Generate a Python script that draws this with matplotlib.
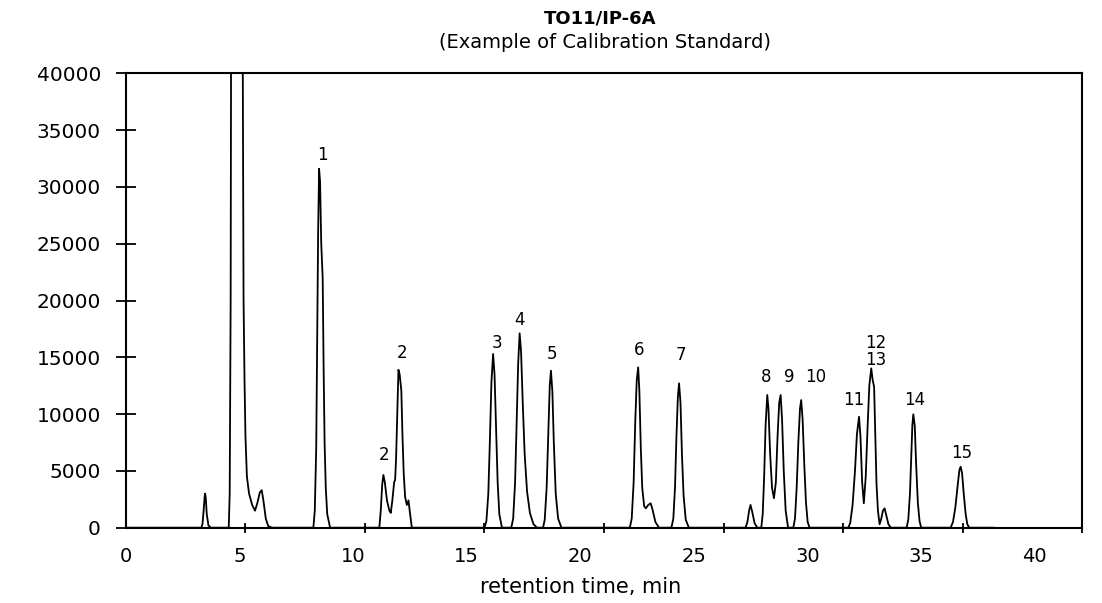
import numpy as np
import matplotlib
matplotlib.use("Agg")
import matplotlib.pyplot as plt

# detector trace: (retention time in min, signal)
time = [
    0.0, 3.15, 3.2, 3.25, 3.29, 3.31, 3.34, 3.38, 3.45, 3.55,
    4.3, 4.34, 4.38, 4.40, 4.6, 4.88, 4.92, 4.96, 5.0, 5.03, 5.06, 5.15, 5.28, 5.4,
    5.5, 5.6, 5.68, 5.75, 5.85, 5.95, 6.1,
    7.84, 7.9, 7.96, 8.0, 8.04, 8.08, 8.12, 8.17, 8.23, 8.27, 8.31, 8.36, 8.42, 8.54,
    10.6, 10.66, 10.72, 10.77, 10.83, 10.92, 11.02, 11.08, 11.15, 11.22, 11.26,
    11.3, 11.35, 11.4, 11.45, 11.52, 11.57, 11.62, 11.68, 11.75, 11.82, 11.87, 11.96,
    15.0, 15.08, 15.16, 15.23, 15.29, 15.36, 15.42, 15.48, 15.55, 15.62, 15.73,
    16.12, 16.2, 16.28, 16.35, 16.41, 16.47, 16.53, 16.6, 16.68, 16.78, 16.9, 17.05, 17.2,
    17.45, 17.52, 17.6, 17.67, 17.73, 17.78, 17.84, 17.9, 17.98, 18.08, 18.22,
    21.08, 21.16, 21.24, 21.31, 21.37, 21.43, 21.48, 21.54, 21.6, 21.68, 21.75,
    21.85, 21.95, 22.03, 22.15, 22.3,
    22.82, 22.9, 22.97, 23.03, 23.09, 23.14, 23.2, 23.26, 23.33, 23.42, 23.55,
    25.92, 26.0, 26.07, 26.13, 26.2, 26.3, 26.41,
    26.58, 26.64, 26.7, 26.76, 26.83, 26.88, 26.95, 27.03, 27.11, 27.19, 27.26,
    27.33, 27.39, 27.45, 27.52, 27.6, 27.7,
    27.92, 27.99, 28.06, 28.13, 28.2, 28.25, 28.31, 28.38, 28.45, 28.52, 28.6,
    30.22, 30.3, 30.4, 30.5, 30.58, 30.67, 30.73, 30.8, 30.87, 30.95, 31.03, 31.1,
    31.18, 31.24, 31.3, 31.35, 31.4, 31.46, 31.53, 31.6, 31.67, 31.74, 31.82, 31.9, 32.0,
    32.66, 32.73, 32.8, 32.86, 32.9, 32.94, 33.0, 33.06, 33.13, 33.2, 33.27,
    34.5, 34.6, 34.7, 34.8, 34.87, 34.92, 34.98, 35.05, 35.13, 35.2, 35.28, 36.3,
]
signal = [
    0, 0, 300, 1500, 2700, 3000, 2600, 1200, 200, 0,
    0, 3000, 20000, 45000, 80000, 45000, 20000, 13000, 8000, 6200, 4500, 3000, 2000, 1500,
    2200, 3100, 3300, 2400, 800, 150, 0,
    0, 1500, 7000, 17000, 26000, 31600, 30500, 25000, 22000, 14000, 7500, 3500, 1200, 0,
    0, 1500, 3800, 4640, 4000, 2400, 1500, 1300, 2500, 4000, 4200,
    6000, 10000, 13900, 13500, 12100, 8000, 4800, 2700, 2000, 2400, 1500, 0,
    0, 600, 3000, 8000, 12800, 15290, 13500, 9000, 4000, 1200, 0,
    0, 800, 4000, 9500, 14500, 17110, 15500, 11000, 6500, 3200, 1300, 300, 0,
    0, 700, 3500, 8500, 12500, 13820, 12000, 7500, 3000, 800, 0,
    0, 800, 4000, 9500, 13000, 14120, 12000, 7000, 3500, 1900, 1700,
    2000, 2150, 1600, 500, 0,
    0, 800, 3500, 8000, 11500, 12710, 11000, 6500, 2800, 700, 0,
    0, 500, 1500, 2000, 1400, 400, 0,
    0, 1200, 4500, 9000, 11680, 10500, 6500, 3500, 2590, 4000, 8000,
    11000, 11680, 9500, 5000, 1500, 0,
    0, 800, 3500, 7500, 10500, 11240, 9500, 5500, 2200, 500, 0,
    0, 400, 2000, 5000, 8200, 9770, 8000, 4000, 2150, 4500, 9000, 12500,
    14030, 13000, 12410, 8000, 3900, 1500, 300, 800, 1500, 1700, 1000, 300, 0,
    0, 700, 3000, 6500, 9000, 9980, 9000, 5500, 2200, 600, 0,
    0, 500, 1800, 3800, 5100, 5370, 4800, 3000, 1200, 300, 0, 0,
]

# peak numbers and where they are written
peak_labels = ["1", "2", "2", "3", "4", "5", "6", "7", "8", "9", "10",
               "11", "12", "13", "14", "15"]
label_x = [8.21, 10.8, 11.55, 15.52, 16.46, 17.83, 21.48, 23.2, 26.79, 27.73,
           28.85, 30.46, 31.37, 31.37, 33.0, 34.95]
label_y = [32800, 6400, 15380, 16260, 18280, 15290, 15640, 15200, 13290, 13290,
           13290, 11240, 16230, 14760, 11240, 6550]

x_ticks = [0, 5, 10, 15, 20, 25, 30, 35, 40]
y_ticks = [0, 5000, 10000, 15000, 20000, 25000, 30000, 35000, 40000]

# the scanned x labels sit a little left of their tick marks
label_scale = 0.9506

fig = plt.figure(figsize=(11.02, 6.03), dpi=100)
ax = fig.add_axes([0.1143, 0.1249, 0.8676, 0.7535])

ax.plot(time, signal, color="black", lw=1.3)

for lab, x, y in zip(peak_labels, label_x, label_y):
    ax.text(x, y, lab, ha="center", va="center", fontsize=12, color="black")

ax.set_xlim(0, 40)
ax.set_ylim(0, 40000)

ax.set_xticks([v * label_scale for v in x_ticks])
ax.set_xticklabels([str(v) for v in x_ticks])
ax.set_xticks(x_ticks, minor=True)
ax.tick_params(axis="x", which="major", length=0, pad=14, labelsize=14)
ax.tick_params(axis="x", which="minor", direction="inout", length=7, width=1.3)

ax.set_yticks(y_ticks)
ax.set_yticklabels([str(v) for v in y_ticks])
ax.tick_params(axis="y", which="major", direction="inout", length=14, width=1.3,
               pad=11, labelsize=14.5)

for s in ax.spines.values():
    s.set_linewidth(1.5)
    s.set_color("black")

fig.text(0.5445, 0.970, "TO11/IP-6A", ha="center", va="center",
         fontsize=13, fontweight="bold")
fig.text(0.549, 0.930, "(Example of Calibration Standard)", ha="center",
         va="center", fontsize=14)
fig.text(0.527, 0.0265, "retention time, min", ha="center", va="center",
         fontsize=15)

fig.savefig("out.png", dpi=100)
